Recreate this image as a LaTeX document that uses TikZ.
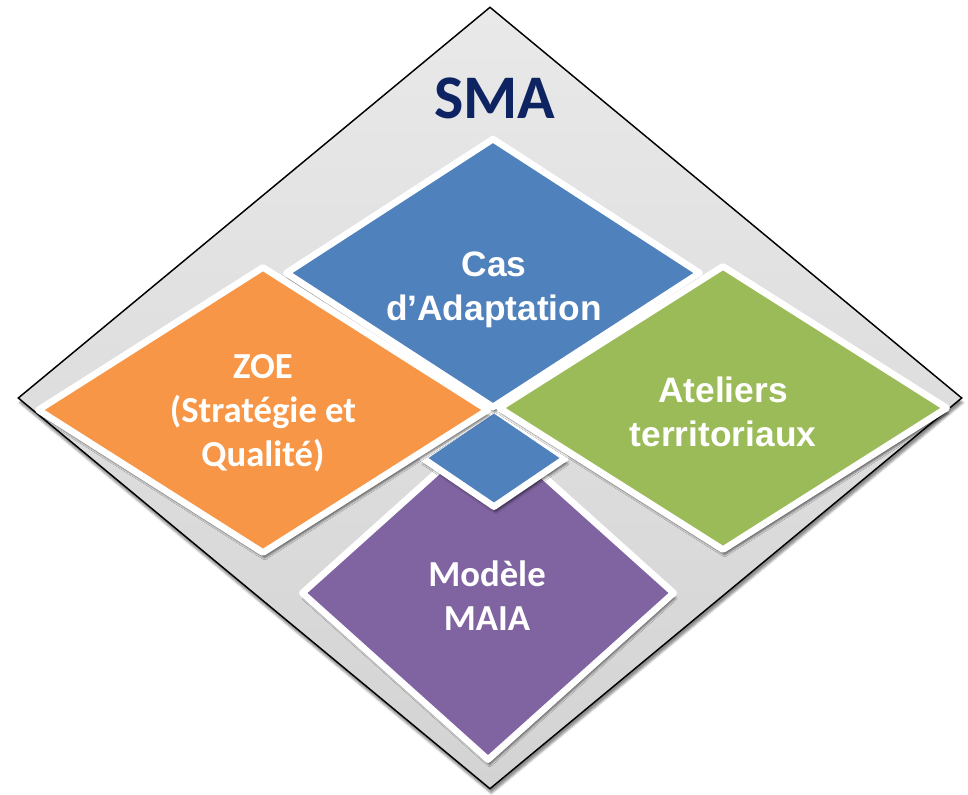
\documentclass[tikz,border=0pt]{standalone}
\usepackage{fontspec}
\usepackage{tikz}
\usetikzlibrary{shapes.geometric,shadows.blur}
\newfontfamily\carlito{Carlito}
\newfontfamily\arialfont{Liberation Sans}
\definecolor{marine}{HTML}{0E2362}
\definecolor{bleuSMA}{HTML}{4F81BD}
\definecolor{orangeSMA}{HTML}{F79646}
\definecolor{vertSMA}{HTML}{9BBB59}
\definecolor{violetSMA}{HTML}{8064A2}
\definecolor{fondHaut}{HTML}{E9E9E9}
\definecolor{fondBas}{HTML}{D3D3D3}

\begin{document}
\begin{tikzpicture}[x=0.75pt,y=-0.75pt,
    losange/.style={diamond, inner sep=0pt, draw=white, line width=5pt, line join=round,
      blur shadow={shadow xshift=1.2pt, shadow yshift=-4pt, shadow blur radius=1.5pt, shadow opacity=55}},
    titre/.style={text=white, align=center, font=\carlito\bfseries\fontsize{27.5}{33}\selectfont},
    titrearial/.style={titre, font=\arialfont\bfseries\fontsize{26.5}{33}\selectfont}]
  \useasboundingbox (0,0) rectangle (968,795);

  %% fond gris
  \node[diamond, inner sep=0pt, minimum width=708pt, minimum height=586.5pt,
        draw=black, line width=1.1pt, top color=fondHaut, bottom color=fondBas,
        blur shadow={shadow xshift=1pt, shadow yshift=-3.5pt, shadow blur radius=1.5pt, shadow opacity=45}]
        (sma) at (490,398) {};
  \node[text=marine, font=\carlito\bfseries\fontsize{46.5}{56}\selectfont] (tsma) at (495,98) {SMA};

  %% losanges
  \node[losange, fill=violetSMA, minimum width=280.5pt, minimum height=252pt] (maia) at (488,593) {};
  \node[losange, fill=bleuSMA, minimum width=109.5pt, minimum height=75pt] (coeur) at (494,458) {};
  \node[losange, fill=bleuSMA, minimum width=312pt, minimum height=203pt] (cas) at (493,273) {};
  \node[losange, fill=orangeSMA, minimum width=339pt, minimum height=216pt] (zoe) at (263,410) {};
  \node[losange, fill=vertSMA, minimum width=337.5pt, minimum height=214.5pt] (ateliers) at (723,408) {};

  %% textes
  \node[titrearial] (tcas) at (494,290) {Cas\\d’Adaptation};
  \node[titre] (tzoe) at (263,413) {ZOE\\(Stratégie et\\Qualité)};
  \node[titrearial] (tateliers) at (723,412) {Ateliers\\territoriaux};
  \node[titre] (tmaia) at (487,596) {Modèle\\MAIA};
\end{tikzpicture}
\end{document}
